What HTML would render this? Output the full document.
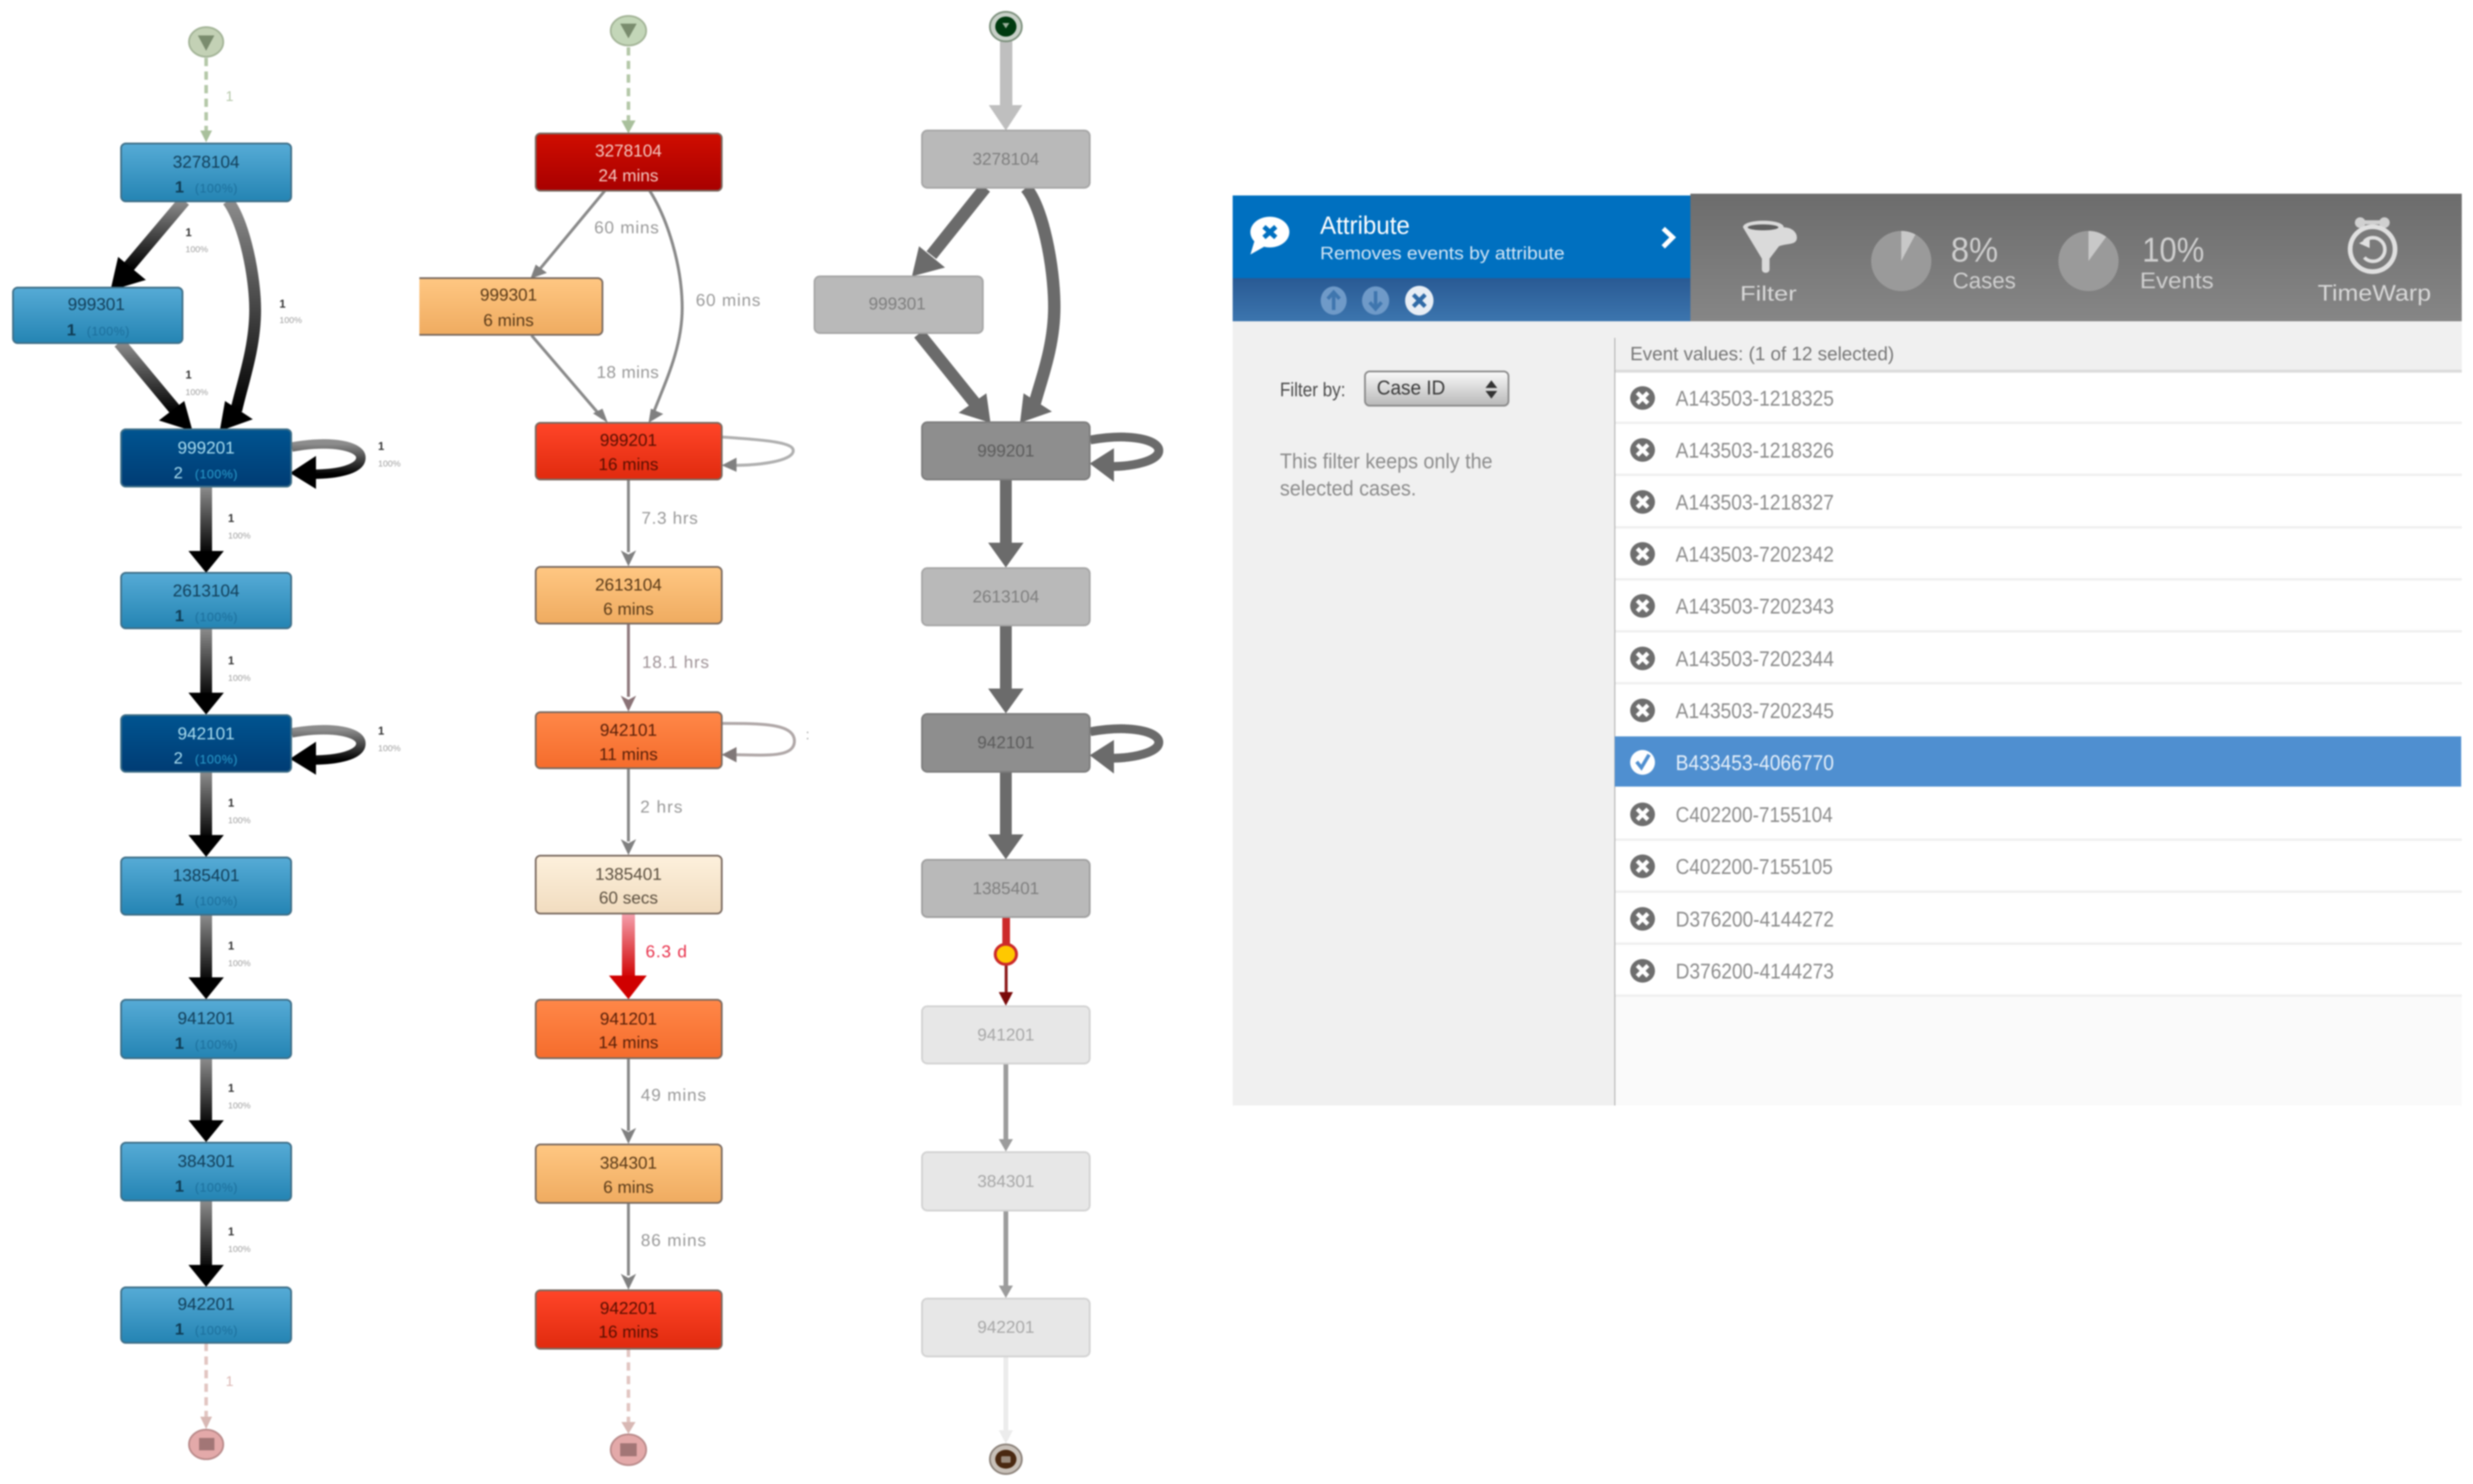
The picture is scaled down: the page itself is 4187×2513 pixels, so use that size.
<!DOCTYPE html>
<html><head><meta charset="utf-8"><style>
html,body{margin:0;padding:0;background:#fff}
svg{display:block;filter:blur(1.4px)}
text{font-family:"Liberation Sans",sans-serif}
.n{font-size:29px;text-anchor:middle}
.pc{font-size:21px}
.l1{font-size:19px;font-weight:bold;fill:#333}
.l2{font-size:15px;fill:#a0a0a0}
.t{font-size:29px;fill:#999;letter-spacing:.6px}
.r{font-size:36px;fill:#8c8c8c}
.b{fill:#123f5a}
.g{fill:#7f7f7f}
.lg{fill:#a8a8a8}
</style></head><body>
<svg width="4187" height="2513" viewBox="0 0 4187 2513" xmlns="http://www.w3.org/2000/svg">
<defs>
<linearGradient id="gv" x1="0" y1="0" x2="0" y2="1"><stop offset="0" stop-color="#8c8c8c"/><stop offset="1" stop-color="#000"/></linearGradient>
<linearGradient id="gr" x1="0" y1="0" x2="0" y2="1"><stop offset="0" stop-color="#f4a0ac"/><stop offset="1" stop-color="#d00000"/></linearGradient>
<linearGradient id="blue" x1="0" y1="0" x2="0" y2="1"><stop offset="0" stop-color="#56abd6"/><stop offset="1" stop-color="#2484b3"/></linearGradient>
<linearGradient id="dblue" x1="0" y1="0" x2="0" y2="1"><stop offset="0" stop-color="#005490"/><stop offset="1" stop-color="#003c74"/></linearGradient>
<linearGradient id="dred" x1="0" y1="0" x2="0" y2="1"><stop offset="0" stop-color="#d00d00"/><stop offset="1" stop-color="#a80000"/></linearGradient>
<linearGradient id="red" x1="0" y1="0" x2="0" y2="1"><stop offset="0" stop-color="#ff4528"/><stop offset="1" stop-color="#e02a0e"/></linearGradient>
<linearGradient id="org" x1="0" y1="0" x2="0" y2="1"><stop offset="0" stop-color="#ff8748"/><stop offset="1" stop-color="#f56c2c"/></linearGradient>
<linearGradient id="lor" x1="0" y1="0" x2="0" y2="1"><stop offset="0" stop-color="#ffc782"/><stop offset="1" stop-color="#efab60"/></linearGradient>
<linearGradient id="cre" x1="0" y1="0" x2="0" y2="1"><stop offset="0" stop-color="#fdf0dc"/><stop offset="1" stop-color="#f1dcbf"/></linearGradient>
<linearGradient id="strip" x1="0" y1="0" x2="0" y2="1"><stop offset="0" stop-color="#295a94"/><stop offset="1" stop-color="#3c75ae"/></linearGradient>
<linearGradient id="gh" x1="0" y1="0" x2="0" y2="1"><stop offset="0" stop-color="#6c6c6c"/><stop offset="1" stop-color="#868686"/></linearGradient>
<linearGradient id="sel" x1="0" y1="0" x2="0" y2="1"><stop offset="0" stop-color="#fafafa"/><stop offset="1" stop-color="#b8b8b8"/></linearGradient>
<g id="xi"><ellipse cx="0" cy="0" rx="21" ry="20" fill="#6e6e6e"/><path d="M-9 -9L9 9M9 -9L-9 9" stroke="#fff" stroke-width="7"/></g>
<g id="ar1"><polygon points="-30,-37 30,-37 0,0" fill="#000"/></g>
<g id="ar2"><polygon points="-13,-27 0,-20 13,-27 0,0" fill="#808080"/></g>
<g id="ar3"><polygon points="-30,-42 30,-42 0,0" fill="#6b6b6b"/></g>
</defs>

<!-- COLUMN 1 -->
<path d="M349 98V225" stroke="#b4c8a8" stroke-width="6" stroke-dasharray="14 9" fill="none"/>
<polygon points="339,221 359,221 349,241" fill="#a9c09c"/>
<path d="M312 340L215 455" stroke="url(#gv)" stroke-width="21" fill="none"/>
<polygon points="200,435 247,474 187,492" fill="#000"/>
<path d="M386 340C415 380 432 470 432 525C432 590 410 650 400 695" stroke="url(#gv)" stroke-width="20" fill="none"/>
<polygon points="381,679 428,710 372,730" fill="#000"/>
<path d="M202 580L300 698" stroke="url(#gv)" stroke-width="21" fill="none"/>
<polygon points="312,679 269,712 326,730" fill="#000"/>
<path d="M494 757C560 745 611 755 611 775C611 795 570 803 530 803" stroke="url(#gv)" stroke-width="16" fill="none"/>
<polygon points="535,772 535,828 491,801" fill="#000"/>
<path d="M494 1241C560 1229 611 1239 611 1259C611 1279 570 1287 530 1287" stroke="url(#gv)" stroke-width="16" fill="none"/>
<polygon points="535,1256 535,1312 491,1285" fill="#000"/>
<rect x="339" y="824" width="20" height="115" fill="url(#gv)"/><use href="#ar1" x="349" y="970"/>
<rect x="339" y="1064" width="20" height="118" fill="url(#gv)"/><use href="#ar1" x="349" y="1210"/>
<rect x="339" y="1307" width="20" height="115" fill="url(#gv)"/><use href="#ar1" x="349" y="1451"/>
<rect x="339" y="1549" width="20" height="115" fill="url(#gv)"/><use href="#ar1" x="349" y="1692"/>
<rect x="339" y="1792" width="20" height="115" fill="url(#gv)"/><use href="#ar1" x="349" y="1934"/>
<rect x="339" y="2033" width="20" height="118" fill="url(#gv)"/><use href="#ar1" x="349" y="2179"/>
<path d="M349 2274V2405" stroke="#e2c6c2" stroke-width="6" stroke-dasharray="14 9" fill="none"/>
<polygon points="339,2399 359,2399 349,2420" fill="#d8b8b4"/>
<ellipse cx="349" cy="71" rx="29" ry="25" fill="#c3d1b5" stroke="#a3b497" stroke-width="3"/>
<polygon points="335,60 363,60 349,86" fill="#7a8c6e"/>
<ellipse cx="349" cy="2446" rx="29" ry="25" fill="#e3a9a9" stroke="#b98a8a" stroke-width="3"/>
<rect x="337" y="2435" width="26" height="21" fill="#a27676"/>

<g stroke="#3f6f88" stroke-width="3">
<rect x="205" y="243" width="288" height="98" rx="8" fill="url(#blue)"/>
<rect x="22" y="487" width="287" height="94" rx="8" fill="url(#blue)"/>
<rect x="205" y="727" width="288" height="97" rx="8" fill="url(#dblue)"/>
<rect x="205" y="970" width="288" height="94" rx="8" fill="url(#blue)"/>
<rect x="205" y="1211" width="288" height="96" rx="8" fill="url(#dblue)"/>
<rect x="205" y="1452" width="288" height="97" rx="8" fill="url(#blue)"/>
<rect x="205" y="1693" width="288" height="99" rx="8" fill="url(#blue)"/>
<rect x="205" y="1935" width="288" height="98" rx="8" fill="url(#blue)"/>
<rect x="205" y="2180" width="288" height="94" rx="8" fill="url(#blue)"/>
</g>
<g class="b">
<text class="n b" x="349" y="284">3278104</text>
<text class="n b" x="163" y="525">999301</text>
<text class="n" x="349" y="768" style="fill:#a8dcef">999201</text>
<text class="n b" x="349" y="1010">2613104</text>
<text class="n" x="349" y="1252" style="fill:#a8dcef">942101</text>
<text class="n b" x="349" y="1492">1385401</text>
<text class="n b" x="349" y="1734">941201</text>
<text class="n b" x="349" y="1976">384301</text>
<text class="n b" x="349" y="2218">942201</text>
</g>
<g>
<text x="296" y="326" font-size="28" font-weight="bold" fill="#0f3c55">1</text><text class="pc" x="330" y="326" textLength="72" fill="#1c6f9c">(100%)</text>
<text x="113" y="568" font-size="28" font-weight="bold" fill="#0f3c55">1</text><text class="pc" x="147" y="568" textLength="72" fill="#1c6f9c">(100%)</text>
<text x="294" y="810" font-size="28" fill="#a8dcef">2</text><text class="pc" x="330" y="810" textLength="72" fill="#2a9ccc">(100%)</text>
<text x="296" y="1052" font-size="28" font-weight="bold" fill="#0f3c55">1</text><text class="pc" x="330" y="1052" textLength="72" fill="#1c6f9c">(100%)</text>
<text x="294" y="1293" font-size="28" fill="#a8dcef">2</text><text class="pc" x="330" y="1293" textLength="72" fill="#2a9ccc">(100%)</text>
<text x="296" y="1533" font-size="28" font-weight="bold" fill="#0f3c55">1</text><text class="pc" x="330" y="1533" textLength="72" fill="#1c6f9c">(100%)</text>
<text x="296" y="1776" font-size="28" font-weight="bold" fill="#0f3c55">1</text><text class="pc" x="330" y="1776" textLength="72" fill="#1c6f9c">(100%)</text>
<text x="296" y="2018" font-size="28" font-weight="bold" fill="#0f3c55">1</text><text class="pc" x="330" y="2018" textLength="72" fill="#1c6f9c">(100%)</text>
<text x="296" y="2260" font-size="28" font-weight="bold" fill="#0f3c55">1</text><text class="pc" x="330" y="2260" textLength="72" fill="#1c6f9c">(100%)</text>
</g>
<text x="382" y="171" font-size="24" fill="#b6c8aa">1</text>
<text x="382" y="2347" font-size="24" fill="#dcb8b4">1</text>
<text class="l1" x="314" y="400">1</text><text class="l2" x="314" y="427">100%</text>
<text class="l1" x="473" y="521">1</text><text class="l2" x="473" y="547">100%</text>
<text class="l1" x="314" y="641">1</text><text class="l2" x="314" y="669">100%</text>
<text class="l1" x="640" y="762">1</text><text class="l2" x="640" y="790">100%</text>
<text class="l1" x="386" y="884">1</text><text class="l2" x="386" y="912">100%</text>
<text class="l1" x="386" y="1125">1</text><text class="l2" x="386" y="1153">100%</text>
<text class="l1" x="640" y="1244">1</text><text class="l2" x="640" y="1272">100%</text>
<text class="l1" x="386" y="1366">1</text><text class="l2" x="386" y="1394">100%</text>
<text class="l1" x="386" y="1608">1</text><text class="l2" x="386" y="1636">100%</text>
<text class="l1" x="386" y="1849">1</text><text class="l2" x="386" y="1877">100%</text>
<text class="l1" x="386" y="2092">1</text><text class="l2" x="386" y="2120">100%</text>

<!-- COLUMN 2 -->
<path d="M1064 80V208" stroke="#b4c8a8" stroke-width="6" stroke-dasharray="14 9" fill="none"/>
<polygon points="1052,204 1076,204 1064,226" fill="#a9c09c"/>
<g fill="none" stroke="#8a8a8a" stroke-width="5">
<path d="M1024 323L912 458"/>
<path d="M1100 323C1130 370 1155 450 1155 522C1155 590 1125 650 1106 700"/>
<path d="M900 568L1020 708"/>
<path d="M1222 740C1290 745 1343 748 1343 763C1343 780 1290 788 1240 788" stroke="#b0b0b0"/>
<path d="M1222 1225C1290 1225 1345 1225 1345 1255C1345 1285 1290 1278 1240 1278" stroke="#b0a8a8"/>
<path d="M1064 812V935"/><path d="M1064 1056V1180" stroke="#907a7e"/><path d="M1064 1301V1425"/><path d="M1064 1792V1915"/><path d="M1064 2037V2160"/>
</g>
<polygon points="907,448 926,462 898,472" fill="#808080"/>
<polygon points="1004,700 1020,692 1029,716" fill="#808080"/>
<polygon points="1102,692 1123,701 1098,716" fill="#808080"/>
<polygon points="1247,775 1247,799 1222,788" fill="#808080"/>
<polygon points="1247,1265 1247,1291 1222,1278" fill="#807878"/>
<use href="#ar2" x="1064" y="959"/>
<polygon points="1051,1178 1064,1185 1077,1178 1064,1205" fill="#8a7276"/>
<use href="#ar2" x="1064" y="1448"/>
<use href="#ar2" x="1064" y="1937"/>
<use href="#ar2" x="1064" y="2184"/>
<rect x="1053" y="1547" width="22" height="110" fill="url(#gr)"/>
<polygon points="1031,1652 1095,1652 1064,1692" fill="#d00000"/>
<path d="M1064 2284V2412" stroke="#e2c6c2" stroke-width="6" stroke-dasharray="14 9" fill="none"/>
<polygon points="1052,2408 1076,2408 1064,2428" fill="#d8b8b4"/>
<ellipse cx="1064" cy="52" rx="30" ry="25" fill="#c3d6b8" stroke="#a3b497" stroke-width="3"/>
<polygon points="1050,40 1078,40 1064,65" fill="#7a8c6e"/>
<ellipse cx="1064" cy="2455" rx="30" ry="26" fill="#e3a9a9" stroke="#b98a8a" stroke-width="3"/>
<rect x="1050" y="2444" width="28" height="22" fill="#a27676"/>

<g stroke="#7a6a60" stroke-width="3">
<rect x="907" y="226" width="315" height="97" rx="8" fill="url(#dred)"/>
<path d="M710 471H1012a8 8 0 0 1 8 8V559a8 8 0 0 1-8 8H710" fill="url(#lor)"/>
<rect x="907" y="716" width="315" height="96" rx="8" fill="url(#red)"/>
<rect x="907" y="960" width="315" height="96" rx="8" fill="url(#lor)"/>
<rect x="907" y="1206" width="315" height="95" rx="8" fill="url(#org)"/>
<rect x="907" y="1449" width="315" height="98" rx="8" fill="url(#cre)"/>
<rect x="907" y="1693" width="315" height="99" rx="8" fill="url(#org)"/>
<rect x="907" y="1938" width="315" height="99" rx="8" fill="url(#lor)"/>
<rect x="907" y="2185" width="315" height="99" rx="8" fill="url(#red)"/>
</g>
<text class="n" x="1064" y="265" fill="#f5c8c0">3278104</text><text class="n" x="1064" y="307" fill="#f5c8c0">24 mins</text>
<text class="n" x="861" y="509" fill="#5a3a18">999301</text><text class="n" x="861" y="552" fill="#5a3a18">6 mins</text>
<text class="n" x="1064" y="755" fill="#5a0f00">999201</text><text class="n" x="1064" y="796" fill="#5a0f00">16 mins</text>
<text class="n" x="1064" y="1000" fill="#5a3a18">2613104</text><text class="n" x="1064" y="1041" fill="#5a3a18">6 mins</text>
<text class="n" x="1064" y="1246" fill="#5a2008">942101</text><text class="n" x="1064" y="1287" fill="#5a2008">11 mins</text>
<text class="n" x="1064" y="1490" fill="#5c5040">1385401</text><text class="n" x="1064" y="1530" fill="#5c5040">60 secs</text>
<text class="n" x="1064" y="1735" fill="#5a2008">941201</text><text class="n" x="1064" y="1775" fill="#5a2008">14 mins</text>
<text class="n" x="1064" y="1979" fill="#5a3a18">384301</text><text class="n" x="1064" y="2020" fill="#5a3a18">6 mins</text>
<text class="n" x="1064" y="2225" fill="#5a0f00">942201</text><text class="n" x="1064" y="2265" fill="#5a0f00">16 mins</text>
<text class="t" x="1006" y="395" textLength="110">60 mins</text>
<text class="t" x="1178" y="518" textLength="110">60 mins</text>
<text class="t" x="1010" y="640" textLength="106">18 mins</text>
<text class="t" x="1086" y="887" textLength="96">7.3 hrs</text>
<text class="t" x="1087" y="1131" textLength="114" style="fill:#a09498">18.1 hrs</text>
<text class="t" x="1084" y="1376" textLength="72">2 hrs</text>
<text x="1093" y="1621" font-size="29" fill="#e8304a" textLength="70">6.3 d</text>
<text class="t" x="1085" y="1864" textLength="111">49 mins</text>
<text class="t" x="1085" y="2110" textLength="111">86 mins</text>
<text x="1364" y="1252" font-size="24" fill="#aaa">:</text>

<!-- COLUMN 3 -->
<rect x="1693" y="70" width="21" height="112" fill="#bfbfbf"/>
<polygon points="1674,178 1731,178 1703,221" fill="#bfbfbf"/>
<g fill="none" stroke="#6b6b6b" stroke-width="21">
<path d="M1668 318L1577 432"/>
<path d="M1737 318C1765 350 1785 450 1785 520C1785 590 1760 650 1750 690"/>
<path d="M1556 565L1650 682"/>
<path d="M1846 745C1915 733 1962 745 1962 763C1962 780 1920 790 1880 790" stroke-width="15"/>
<path d="M1846 1239C1915 1227 1962 1239 1962 1257C1962 1274 1920 1284 1880 1284" stroke-width="15"/>
</g>
<polygon points="1556,417 1600,453 1544,468" fill="#6b6b6b"/>
<polygon points="1670,666 1623,699 1677,716" fill="#6b6b6b"/>
<polygon points="1733,666 1781,697 1727,716" fill="#6b6b6b"/>
<polygon points="1886,759 1886,816 1845,785" fill="#6b6b6b"/>
<polygon points="1886,1253 1886,1310 1845,1279" fill="#6b6b6b"/>
<rect x="1693" y="813" width="20" height="115" fill="#6b6b6b"/><use href="#ar3" x="1703" y="961"/>
<rect x="1693" y="1060" width="20" height="115" fill="#6b6b6b"/><use href="#ar3" x="1703" y="1208"/>
<rect x="1693" y="1308" width="20" height="115" fill="#6b6b6b"/><use href="#ar3" x="1703" y="1455"/>
<rect x="1697" y="1554" width="13" height="50" fill="#cc2a2a"/>
<rect x="1701" y="1630" width="5" height="55" fill="#8c1a1a"/>
<polygon points="1691,1680 1715,1680 1703,1703" fill="#7a0a0a"/>
<ellipse cx="1703" cy="1616" rx="18" ry="17" fill="#ffc800" stroke="#cc2a2a" stroke-width="5"/>
<rect x="1699" y="1802" width="8" height="130" fill="#9c9c9c"/>
<polygon points="1691,1929 1715,1929 1703,1950" fill="#9c9c9c"/>
<rect x="1699" y="2051" width="8" height="130" fill="#9c9c9c"/>
<polygon points="1691,2177 1715,2177 1703,2198" fill="#9c9c9c"/>
<rect x="1699" y="2298" width="8" height="128" fill="#ececec"/>
<polygon points="1691,2422 1715,2422 1703,2445" fill="#ececec"/>
<ellipse cx="1703" cy="45" rx="27" ry="25" fill="#c8d0c8" stroke="#7c907c" stroke-width="3"/>
<ellipse cx="1703" cy="45" rx="18" ry="17" fill="#003a10"/>
<polygon points="1697,39 1709,39 1703,48" fill="#9cb09c"/>
<ellipse cx="1703" cy="2471" rx="27" ry="25" fill="#c8c0b8" stroke="#8a8078" stroke-width="3"/>
<ellipse cx="1703" cy="2471" rx="18" ry="16" fill="#4a2810"/>
<rect x="1695" y="2466" width="16" height="11" rx="2" fill="#9a8a7c"/>

<g stroke-width="3">
<rect x="1561" y="221" width="284" height="97" rx="9" fill="#b9b9b9" stroke="#a6a6a6"/>
<rect x="1379" y="468" width="285" height="96" rx="9" fill="#b9b9b9" stroke="#a6a6a6"/>
<rect x="1561" y="715" width="284" height="97" rx="9" fill="#8e8e8e" stroke="#7d7d7d"/>
<rect x="1561" y="962" width="284" height="97" rx="9" fill="#b9b9b9" stroke="#a6a6a6"/>
<rect x="1561" y="1209" width="284" height="98" rx="9" fill="#8e8e8e" stroke="#7d7d7d"/>
<rect x="1561" y="1456" width="284" height="97" rx="9" fill="#b9b9b9" stroke="#a0a0a0"/>
<rect x="1561" y="1704" width="284" height="97" rx="9" fill="#e7e7e7" stroke="#d2d2d2"/>
<rect x="1561" y="1951" width="284" height="99" rx="9" fill="#e7e7e7" stroke="#d2d2d2"/>
<rect x="1561" y="2199" width="284" height="98" rx="9" fill="#e7e7e7" stroke="#d2d2d2"/>
</g>
<text class="n g" x="1703" y="279">3278104</text>
<text class="n g" x="1519" y="524">999301</text>
<text class="n" x="1703" y="773" fill="#5c5c5c">999201</text>
<text class="n g" x="1703" y="1020">2613104</text>
<text class="n" x="1703" y="1267" fill="#5c5c5c">942101</text>
<text class="n g" x="1703" y="1514">1385401</text>
<text class="n lg" x="1703" y="1762">941201</text>
<text class="n lg" x="1703" y="2010">384301</text>
<text class="n lg" x="1703" y="2257">942201</text>

<!-- PANEL -->
<rect x="2087" y="544" width="2081" height="1328" fill="#f0f0f0"/>
<rect x="2734" y="628" width="1434" height="1058" fill="#fff"/>
<rect x="2734" y="1686" width="1434" height="186" fill="#fafafa"/>
<rect x="2733" y="572" width="2" height="1300" fill="#b8b8b8"/>
<rect x="2735" y="626" width="1433" height="5" fill="#dcdcdc"/>
<g fill="#efefef">
<rect x="2735" y="714" width="1433" height="4"/><rect x="2735" y="802" width="1433" height="4"/><rect x="2735" y="891" width="1433" height="4"/><rect x="2735" y="979" width="1433" height="4"/><rect x="2735" y="1067" width="1433" height="4"/><rect x="2735" y="1155" width="1433" height="4"/><rect x="2735" y="1420" width="1433" height="4"/><rect x="2735" y="1508" width="1433" height="4"/><rect x="2735" y="1596" width="1433" height="4"/><rect x="2735" y="1684" width="1433" height="4"/>
</g>
<rect x="2734" y="1247" width="1433" height="85" fill="#4f8fd0"/>

<rect x="2087" y="331" width="775" height="140" fill="#0070c0"/>
<rect x="2087" y="471" width="775" height="73" fill="url(#strip)"/>
<rect x="2862" y="328" width="1306" height="216" fill="url(#gh)"/>

<ellipse cx="2150" cy="393" rx="33" ry="26" fill="#fff"/>
<polygon points="2124,408 2140,418 2117,431" fill="#fff"/>
<path d="M2140 384L2160 402M2160 384L2140 402" stroke="#0070c0" stroke-width="8"/>
<text x="2235" y="396" font-size="43" fill="#fff" textLength="152" lengthAdjust="spacingAndGlyphs">Attribute</text>
<text x="2235" y="439" font-size="31" fill="#d4e6f5" textLength="414" lengthAdjust="spacingAndGlyphs">Removes events by attribute</text>
<path d="M2816 387L2832 402L2816 418" fill="none" stroke="#fff" stroke-width="8"/>
<ellipse cx="2258" cy="509" rx="22" ry="24" fill="#6f9ac8"/>
<path d="M2258 525V497M2248 506L2258 495L2268 506" fill="none" stroke="#3f76ae" stroke-width="6"/>
<ellipse cx="2329" cy="509" rx="23" ry="24" fill="#6f9ac8"/>
<path d="M2329 493V521M2319 512L2329 523L2339 512" fill="none" stroke="#3f76ae" stroke-width="6"/>
<ellipse cx="2403" cy="509" rx="24" ry="25" fill="#e8eef5"/>
<path d="M2393 499L2413 519M2413 499L2393 519" stroke="#2f6aa6" stroke-width="7"/>

<path d="M2951 385C2951 370 3020 370 3020 385C3035 385 3044 395 3042 405C3040 415 3025 412 3012 417L2996 438V456C2996 464 2983 464 2983 456V438Z" fill="#dadada"/>
<ellipse cx="2985" cy="385" rx="26" ry="5" fill="#5f5f5f"/>
<text x="2946" y="509" font-size="35" fill="#d8d8d8" textLength="96" lengthAdjust="spacingAndGlyphs">Filter</text>

<circle cx="3219" cy="442" r="51" fill="#9a9a9a"/>
<path d="M3219 442V391A51 51 0 0 1 3243 397Z" fill="#c8c8c8"/>
<text x="3303" y="443" font-size="58" fill="#cfcfcf" textLength="80" lengthAdjust="spacingAndGlyphs">8%</text>
<text x="3306" y="488" font-size="38" fill="#cfcfcf" textLength="107" lengthAdjust="spacingAndGlyphs">Cases</text>
<circle cx="3536" cy="442" r="51" fill="#9a9a9a"/>
<path d="M3536 442V391A51 51 0 0 1 3566 401Z" fill="#c8c8c8"/>
<text x="3627" y="443" font-size="58" fill="#cfcfcf" textLength="105" lengthAdjust="spacingAndGlyphs">10%</text>
<text x="3623" y="488" font-size="38" fill="#cfcfcf" textLength="125" lengthAdjust="spacingAndGlyphs">Events</text>

<circle cx="3996" cy="377" r="9" fill="#d0d0d0"/><circle cx="4037" cy="377" r="9" fill="#d0d0d0"/>
<rect x="3996" y="373" width="41" height="7" fill="#d0d0d0"/>
<ellipse cx="4017" cy="422" rx="38" ry="38" fill="#7a7a7a" stroke="#e0e0e0" stroke-width="8"/>
<path d="M4003 409A20 20 0 1 1 4003 436" fill="none" stroke="#e0e0e0" stroke-width="6"/>
<polygon points="3994,412 4012,402 4012,420" fill="#e0e0e0"/>
<text x="3924" y="509" font-size="38" fill="#d8d8d8" textLength="192" lengthAdjust="spacingAndGlyphs">TimeWarp</text>

<text x="2167" y="671" font-size="33" fill="#4a4a4a" textLength="111" lengthAdjust="spacingAndGlyphs">Filter by:</text>
<rect x="2311" y="629" width="243" height="58" rx="8" fill="url(#sel)" stroke="#8a8a8a" stroke-width="3"/>
<text x="2331" y="668" font-size="34" fill="#3a3a3a" textLength="116" lengthAdjust="spacingAndGlyphs">Case ID</text>
<polygon points="2515,657 2535,657 2525,644" fill="#333"/><polygon points="2515,662 2535,662 2525,675" fill="#333"/>
<text x="2167" y="793" font-size="36" fill="#8c8c8c" textLength="360" lengthAdjust="spacingAndGlyphs">This filter keeps only the</text>
<text x="2167" y="839" font-size="36" fill="#8c8c8c" textLength="231" lengthAdjust="spacingAndGlyphs">selected cases.</text>
<text x="2760" y="610" font-size="32" fill="#777" textLength="447" lengthAdjust="spacingAndGlyphs">Event values:  (1 of 12 selected)</text>

<use href="#xi" x="2781" y="674"/><text class="r" x="2837" y="687" textLength="268" lengthAdjust="spacingAndGlyphs">A143503-1218325</text>
<use href="#xi" x="2781" y="762"/><text class="r" x="2837" y="775" textLength="268" lengthAdjust="spacingAndGlyphs">A143503-1218326</text>
<use href="#xi" x="2781" y="850"/><text class="r" x="2837" y="863" textLength="268" lengthAdjust="spacingAndGlyphs">A143503-1218327</text>
<use href="#xi" x="2781" y="938"/><text class="r" x="2837" y="951" textLength="268" lengthAdjust="spacingAndGlyphs">A143503-7202342</text>
<use href="#xi" x="2781" y="1026"/><text class="r" x="2837" y="1039" textLength="268" lengthAdjust="spacingAndGlyphs">A143503-7202343</text>
<use href="#xi" x="2781" y="1115"/><text class="r" x="2837" y="1128" textLength="268" lengthAdjust="spacingAndGlyphs">A143503-7202344</text>
<use href="#xi" x="2781" y="1203"/><text class="r" x="2837" y="1216" textLength="268" lengthAdjust="spacingAndGlyphs">A143503-7202345</text>
<ellipse cx="2781" cy="1291" rx="21" ry="21" fill="#fff"/><path d="M2771 1290L2779 1300L2792 1278" fill="none" stroke="#4f8fd0" stroke-width="6"/>
<text class="r" x="2837" y="1304" textLength="268" lengthAdjust="spacingAndGlyphs" style="fill:#e6f0fa">B433453-4066770</text>
<use href="#xi" x="2781" y="1379"/><text class="r" x="2837" y="1392" textLength="266" lengthAdjust="spacingAndGlyphs">C402200-7155104</text>
<use href="#xi" x="2781" y="1467"/><text class="r" x="2837" y="1480" textLength="266" lengthAdjust="spacingAndGlyphs">C402200-7155105</text>
<use href="#xi" x="2781" y="1556"/><text class="r" x="2837" y="1569" textLength="268" lengthAdjust="spacingAndGlyphs">D376200-4144272</text>
<use href="#xi" x="2781" y="1644"/><text class="r" x="2837" y="1657" textLength="268" lengthAdjust="spacingAndGlyphs">D376200-4144273</text>
</svg>
</body></html>
